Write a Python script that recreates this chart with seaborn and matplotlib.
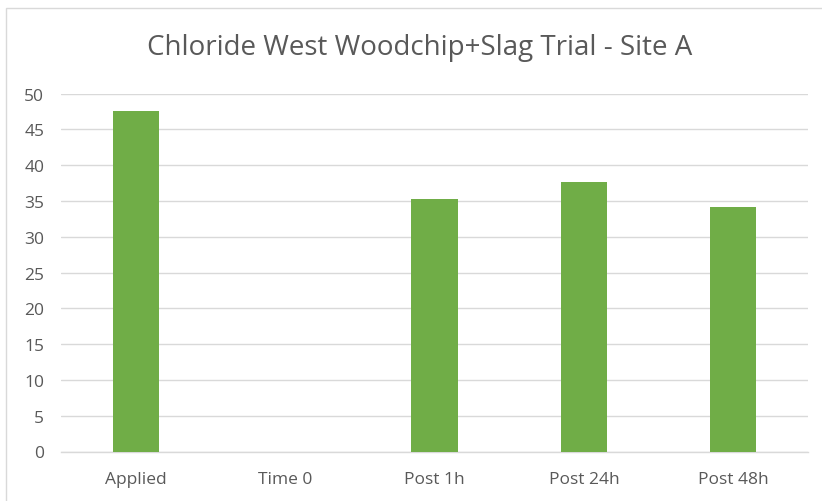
import matplotlib
matplotlib.use("Agg")
import matplotlib.pyplot as plt
import seaborn as sns
import pandas as pd
from matplotlib.patches import Rectangle

categories = ["Applied", "Time 0", "Post 1h", "Post 24h", "Post 48h"]
values = [47.6, 0.0, 35.3, 37.7, 34.2]
yticks = [0, 5, 10, 15, 20, 25, 30, 35, 40, 45, 50]
title = "Chloride West Woodchip+Slag Trial - Site A"

sns.set_theme(style="white")
plt.rcParams["font.family"] = ["Open Sans", "DejaVu Sans"]

df = pd.DataFrame({"cat": categories, "val": values})

fig = plt.figure(figsize=(8.22, 5.02), dpi=100)
ax = fig.add_axes([61/822, 1-452.5/502, (808-61)/822, (452.5-94.7)/502])

sns.barplot(data=df, x="cat", y="val", order=categories, color="#70AD47",
            saturation=1, width=0.31, linewidth=0, ax=ax, zorder=3)

ax.set_ylim(0, 50)
ax.set_yticks(yticks)
ax.set_yticklabels([str(t) for t in yticks])
ax.set_xlim(-0.5, len(categories)-0.5)
ax.grid(axis="y", color="#D9D9D9", linewidth=1.0, zorder=0)
ax.set_axisbelow(True)
for s in ["top", "right", "left"]:
    ax.spines[s].set_visible(False)
ax.spines["bottom"].set_color("#D9D9D9")
ax.spines["bottom"].set_linewidth(1.0)
ax.set_xlabel("")
ax.set_ylabel("")
ax.tick_params(axis="both", length=0, colors="#595959", labelsize=12.5)
ax.tick_params(axis="y", pad=12)
ax.tick_params(axis="x", pad=14)

fig.text(420/822, 1-48/502, title, ha="center", va="center",
         fontsize=20, color="#595959")

fig.patches.append(Rectangle((6/822, -0.1), 1.2, 1-9/502+0.1,
                             transform=fig.transFigure, fill=False,
                             edgecolor="#D9D9D9", linewidth=1.0))

fig.savefig("out.png", dpi=100)
